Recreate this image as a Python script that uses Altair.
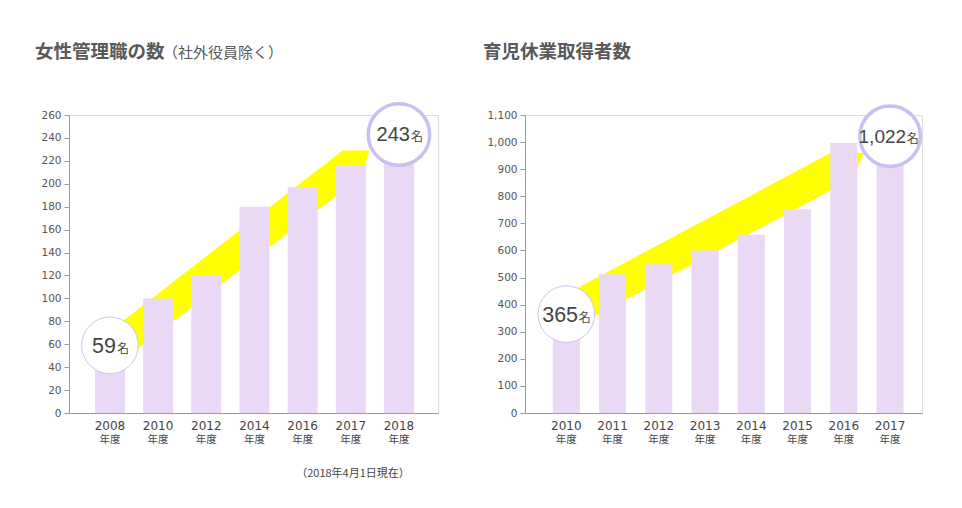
import altair as alt
import pandas as pd

# ---- data: women managers (left) ----
w_years = ["2008", "2010", "2012", "2014", "2016", "2017", "2018"]
w_counts = [59, 100, 120, 180, 197, 216, 243]
# yellow arrow band (x in bar-index units, upper / lower value)
w_band_x = [0, 4.83, 5.23, 5.38]
w_band_hi = [71.6, 229, 229, 229]
w_band_lo = [37.5, 193.7, 206.6, 229]

# ---- data: childcare leave takers (right) ----
c_years = ["2010", "2011", "2012", "2013", "2014", "2015", "2016", "2017"]
c_counts = [365, 512, 549, 600, 658, 752, 997, 1022]
c_band_x = [0, 5.72, 6.17, 6.44]
c_band_hi = [439.5, 961, 961, 961]
c_band_lo = [302, 822, 863, 961]

H = 298
BAR = "#ead8f5"
YEL = "#ffff00"
RING = "#c6c1f0"
TXT = "#444444"
CJK = "Noto Sans CJK JP"


def panel(years, counts, bx, bhi, blo, xdom, ymax, ystep, fmt, width, bar_size,
          title, sub, title_x, small_ring, big_ring, small_dx, big_dx, big_font, note=None):
    n = len(years)
    df = pd.DataFrame({"i": list(range(n)), "year": years, "count": counts})
    band = pd.DataFrame({"i": bx, "count": bhi, "lo": blo})
    xs = alt.Scale(domain=xdom, nice=False, zero=False, padding=0)
    ys = alt.Scale(domain=[0, ymax], nice=False)
    xa = alt.Axis(title=None, labels=False, ticks=False, grid=False,
                  domainColor="#999999", domainWidth=1)
    ya = alt.Axis(title=None, values=list(range(0, ymax + 1, ystep)), format=fmt,
                  tickSize=5, tickColor="#999999", domainColor="#999999",
                  labelColor="#555555", labelFont="DejaVu Sans", labelFontSize=10.5,
                  labelPadding=3, grid=False)
    X = alt.X("i:Q", scale=xs, axis=xa)
    Y = alt.Y("count:Q", scale=ys, axis=ya)

    band_l = alt.Chart(band).mark_area(color=YEL, orient="vertical").encode(
        x=X, y=Y, y2="lo:Q")
    bars = alt.Chart(df).mark_bar(color=BAR, size=bar_size).encode(x=X, y=Y)

    first = df.iloc[[0]]
    last = df.iloc[[n - 1]]
    ring1 = alt.Chart(first).mark_circle(size=small_ring, color="white", opacity=1,
                                         stroke="#cbc6f3", strokeWidth=1).encode(x=X, y=Y)
    ring2 = alt.Chart(last).mark_circle(size=big_ring, color="white", opacity=1,
                                        stroke=RING, strokeWidth=3.5).encode(x=X, y=Y)
    num1 = alt.Chart(first).mark_text(align="right", baseline="alphabetic", dx=small_dx[0], dy=7.5,
                                      font="Liberation Sans", fontSize=21.5, color=TXT).encode(
        x=X, y=Y, text=alt.Text("count:Q", format=",d"))
    mei1 = alt.Chart(first).mark_text(align="left", baseline="alphabetic", dx=small_dx[1], dy=7.5,
                                      font=CJK, fontSize=12, color=TXT).encode(
        x=X, y=Y, text=alt.value("名"))
    num2 = alt.Chart(last).mark_text(align="right", baseline="alphabetic", dx=big_dx[0], dy=7,
                                     font="Liberation Sans", fontSize=big_font, color=TXT).encode(
        x=X, y=Y, text=alt.Text("count:Q", format=",d"))
    mei2 = alt.Chart(last).mark_text(align="left", baseline="alphabetic", dx=big_dx[1], dy=7,
                                     font=CJK, fontSize=12, color=TXT).encode(
        x=X, y=Y, text=alt.value("名"))

    yl = alt.Chart(df).mark_text(baseline="middle", font="DejaVu Sans", fontSize=12,
                                 color=TXT).encode(x=X, y=alt.value(H + 12.5), text="year:N")
    nd = alt.Chart(df).mark_text(baseline="middle", font=CJK, fontSize=10.5,
                                 color=TXT).encode(x=X, y=alt.value(H + 27), text=alt.value("年度"))

    tdf = pd.DataFrame({"t": [title]})
    tl = alt.Chart(tdf).mark_text(align="left", baseline="middle", font=CJK, fontSize=18.5,
                                  fontWeight="bold", color="#595959").encode(
        x=alt.value(title_x[0]), y=alt.value(-63), text="t:N")
    layers = [band_l, bars, ring1, ring2, num1, mei1, num2, mei2, yl, nd, tl]
    if sub:
        sdf = pd.DataFrame({"t": [sub]})
        layers.append(alt.Chart(sdf).mark_text(align="left", baseline="middle", font=CJK,
                                               fontSize=15, color="#595959").encode(
            x=alt.value(title_x[1]), y=alt.value(-62), text="t:N"))
    if note:
        ndf = pd.DataFrame({"t": [note]})
        layers.append(alt.Chart(ndf).mark_text(align="center", baseline="middle", font=CJK,
                                               fontSize=11, color=TXT).encode(
            x=alt.value(284), y=alt.value(358.5), text="t:N"))
    return alt.layer(*layers).properties(width=width, height=H)


left = panel(w_years, w_counts, w_band_x, w_band_hi, w_band_lo, [-0.85, 6.81], 260, 20, "d",
             369, 30, "女性管理職の数", "（社外役員除く）", (-34, 94), 3215, 3780,
             (6, 7), (11, 12), 20, note="（2018年4月1日現在）")
right = panel(c_years, c_counts, c_band_x, c_band_hi, c_band_lo, [-0.894, 7.69], 1100, 100, ",d",
              397, 27, "育児休業取得者数", None, (-42, 0), 3200, 3660,
              (11.7, 12.5), (16, 16.7), 19)

chart = alt.hconcat(left, right, spacing=43).properties(
    padding={"left": 26, "top": 34, "right": 0, "bottom": 0}
).configure_view(stroke=None).configure(background="white")

chart.save("out.html", embed_options={"renderer": "svg", "actions": False})
